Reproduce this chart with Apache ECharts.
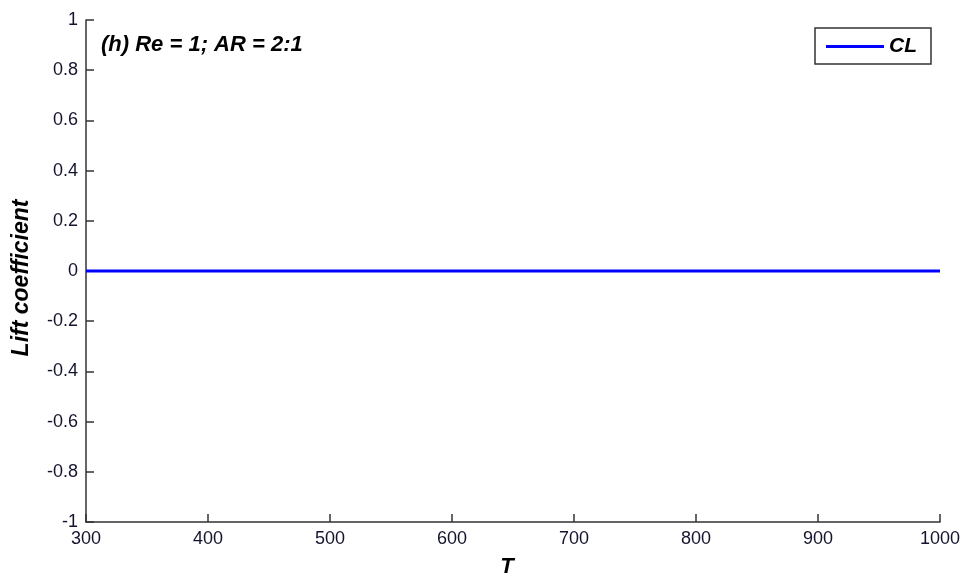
<!DOCTYPE html>
<html>
<head>
<meta charset="utf-8">
<script src="https://cdn.jsdelivr.net/npm/echarts@6/dist/echarts.min.js"></script>
<style>html,body{margin:0;padding:0;background:#fff;}#c{width:971px;height:579px;}</style>
</head>
<body>
<div id="c"></div>
<script>
var T = [300, 350, 400, 450, 500, 550, 600, 650, 700, 750, 800, 850, 900, 950, 1000];
var CL = [0, 0, 0, 0, 0, 0, 0, 0, 0, 0, 0, 0, 0, 0, 0];
var xTicks = [300, 400, 500, 600, 700, 800, 900, 1000];
var yTicks = [-1, -0.8, -0.6, -0.4, -0.2, 0, 0.2, 0.4, 0.6, 0.8, 1];
var titleText = '(h) Re = 1; AR = 2:1';
var seriesName = 'CL';

var chart = echarts.init(document.getElementById('c'));
var labelColor = '#14142e';
var fam = 'Liberation Sans, Arial';
chart.setOption({
  animation: false,
  backgroundColor: '#fff',
  title: {
    text: titleText, left: 96, top: 29,
    textStyle: {fontFamily: fam, fontSize: 22, fontWeight: 'bold', fontStyle: 'italic', color: '#000'}
  },
  legend: {
    data: [{name: seriesName, icon: 'rect'}], left: 815, top: 28,
    padding: [8, 14, 7, 11],
    itemWidth: 58, itemHeight: 3, itemGap: 10,
    borderColor: '#333', borderWidth: 1.5, borderRadius: 0,
    textStyle: {fontFamily: fam, fontSize: 21, fontWeight: 'bold', fontStyle: 'italic', color: '#000'}
  },
  grid: {left: 86, right: 31, top: 20, bottom: 57, containLabel: false, outerBoundsMode: 'none'},
  xAxis: {
    type: 'value', min: 300, max: 1000, interval: 100,
    name: 'T', nameLocation: 'middle', nameGap: 34,
    nameTextStyle: {fontFamily: fam, fontSize: 22, fontWeight: 'bold', fontStyle: 'italic', color: '#000', padding: [0, 12, 0, 0]},
    axisLine: {show: true, onZero: false, lineStyle: {color: '#333', width: 1.5}},
    axisTick: {show: true, inside: true, length: 8, lineStyle: {color: '#333', width: 1.5}},
    axisLabel: {margin: 8, fontFamily: fam, fontSize: 18, color: labelColor,
      formatter: function (v) { return String(v); }},
    splitLine: {show: false}
  },
  yAxis: {
    type: 'value', min: -1, max: 1, interval: 0.2,
    name: 'Lift coefficient', nameLocation: 'middle', nameGap: 53,
    nameTextStyle: {fontFamily: fam, fontSize: 23, fontWeight: 'bold', fontStyle: 'italic', color: '#000', padding: [0, 14, 0, 0]},
    axisLine: {show: true, onZero: false, lineStyle: {color: '#333', width: 1.5}},
    axisTick: {show: true, inside: true, length: 8, lineStyle: {color: '#333', width: 1.5}},
    axisLabel: {margin: 8, fontFamily: fam, fontSize: 18, color: labelColor,
      formatter: function (v) { return String(Math.round(v * 10) / 10); }},
    splitLine: {show: false}
  },
  series: [{
    name: seriesName, type: 'line', symbol: 'none',
    data: T.map(function (t, i) { return [t, CL[i]]; }),
    lineStyle: {color: '#0000ff', width: 3},
    itemStyle: {color: '#0000ff'}
  }]
});
</script>
</body>
</html>
